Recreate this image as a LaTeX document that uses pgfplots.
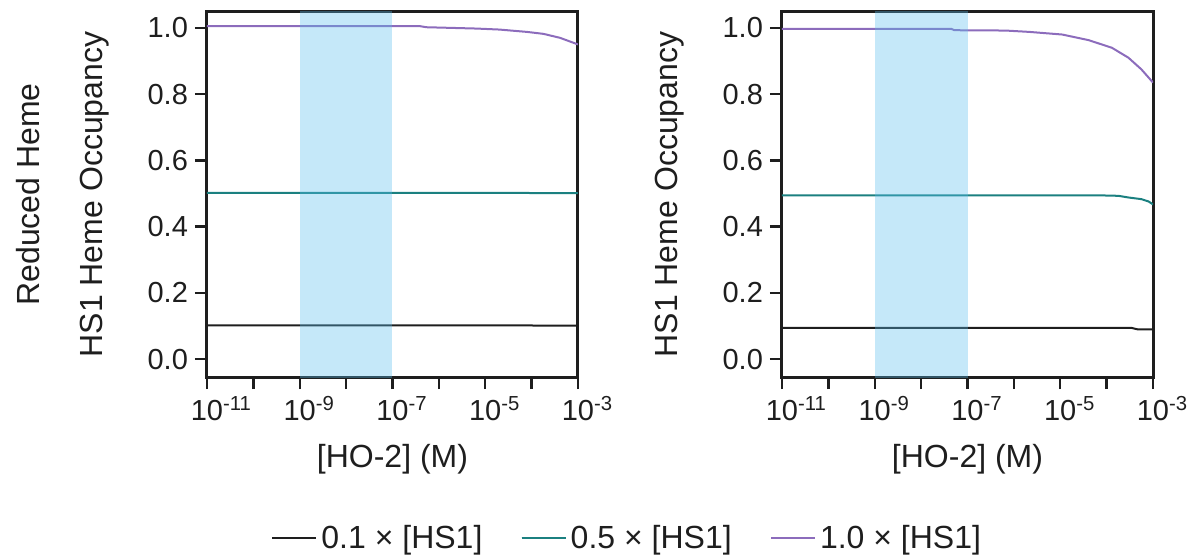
\documentclass[border=0pt]{standalone}
\usepackage{fontspec}
\setmainfont{Liberation Sans}
\usepackage{pgfplots}
\pgfplotsset{compat=1.18}
\definecolor{cteal}{RGB}{27,128,128}
\definecolor{cpurp}{RGB}{140,108,188}
\definecolor{cblk}{RGB}{30,30,30}
\definecolor{cband}{RGB}{89,189,238}
\newcommand{\fs}{\fontsize{14.5}{17}\selectfont}
\newcommand{\fl}{\fontsize{16}{19}\selectfont}
\newcommand{\ex}[1]{10\rlap{\textsuperscript{#1}}}
\pgfplotsset{
  myax/.style={
    scale only axis, width=185.5pt, height=182.5pt,
    xmin=1e-11, xmax=1e-3,
    ymin=-0.054, ymax=1.048,
    xtick={1e-11,1e-10,1e-9,1e-8,1e-7,1e-6,1e-5,1e-4,1e-3},
    xticklabels={\ex{-11},,\ex{-9},,\ex{-7},,\ex{-5},,\ex{-3}},
    xminorticks=false,
    ytick={0,0.2,0.4,0.6,0.8,1},
    yticklabels={0.0,0.2,0.4,0.6,0.8,1.0},
    tick pos=left, tick align=outside,
    major tick length=6pt,
    axis line style={line width=1.5pt, cblk},
    every tick/.style={line width=1.2pt, cblk},
    tick label style={font=\fs, text=cblk},
    label style={font=\fl, text=cblk},
    legend style={font=\fl, text=cblk},
    xlabel={[HO-2] (M)},
    xlabel style={at={(axis description cs:0.5,-0.249)}, anchor=base},
  }
}
\begin{document}
\begin{tikzpicture}
\begin{semilogxaxis}[myax, at={(0pt,0pt)}, anchor=south west,
  ylabel={Reduced Heme\\[12.5pt]HS1 Heme Occupancy},
  ylabel style={at={(axis description cs:-0.3895,0.5)}, anchor=center, align=center},
  legend columns=3,
  legend style={at={(axis description cs:1.135,-0.441)}, anchor=center, draw=none, fill=none,
    /tikz/every even column/.append style={column sep=17pt}},
  legend image code/.code={\path (0pt,0pt) -- (22pt,0pt); \draw[#1, line width=1.3pt] (0pt,0pt) -- (16pt,0pt);},
]
\addplot[cblk, line width=1pt] coordinates {(1e-11,0.102) (1e-9,0.102) (1e-7,0.102) (1e-5,0.102) (1e-3,0.101)};
\addlegendentry{0.1 × [HS1]}
\addplot[cteal, line width=1pt] coordinates {(1e-11,0.502) (1e-9,0.502) (1e-7,0.502) (1e-5,0.502) (1e-3,0.501)};
\addlegendentry{0.5 × [HS1]}
\addplot[cpurp, line width=1pt] coordinates {(1e-11,1.005) (1e-9,1.005) (4e-7,1.005) (5.4e-7,1.002) (6.5e-6,0.998) (2e-5,0.995) (7.8e-5,0.988) (1.8e-4,0.982) (4.1e-4,0.970) (1e-3,0.950)};
\addlegendentry{1.0 × [HS1]}
\addplot[draw=none, fill=cband, fill opacity=0.35, forget plot] coordinates {(1e-9,-0.1) (1e-7,-0.1) (1e-7,1.1) (1e-9,1.1)} -- cycle;
\end{semilogxaxis}
\begin{semilogxaxis}[myax, at={(287.5pt,0pt)}, anchor=south west,
  ylabel={HS1 Heme Occupancy},
  ylabel style={at={(axis description cs:-0.303,0.5)}, anchor=center},
]
\addplot[cblk, line width=1pt] coordinates {(1e-11,0.094) (1e-9,0.094) (1e-7,0.094) (1e-5,0.094) (3.5e-4,0.094) (4.6e-4,0.090) (1e-3,0.090)};
\addplot[cteal, line width=1pt] coordinates {(1e-11,0.494) (1e-9,0.494) (1e-7,0.494) (9.3e-5,0.494) (1.8e-4,0.493) (2.95e-4,0.488) (5.6e-4,0.483) (8e-4,0.476) (1e-3,0.467)};
\addplot[cpurp, line width=1pt] coordinates {(1e-11,0.997) (1e-9,0.997) (4.5e-8,0.997) (5.2e-8,0.993) (6.6e-7,0.992) (2.1e-6,0.988) (1.1e-5,0.980) (4.1e-5,0.963) (1.3e-4,0.940) (2.95e-4,0.910) (5.6e-4,0.875) (1e-3,0.835)};
\addplot[draw=none, fill=cband, fill opacity=0.35, forget plot] coordinates {(1e-9,-0.1) (1e-7,-0.1) (1e-7,1.1) (1e-9,1.1)} -- cycle;
\end{semilogxaxis}
\pgfresetboundingbox
\useasboundingbox (-103.5pt,-90pt) rectangle (496pt,188.5pt);
\end{tikzpicture}
\end{document}
